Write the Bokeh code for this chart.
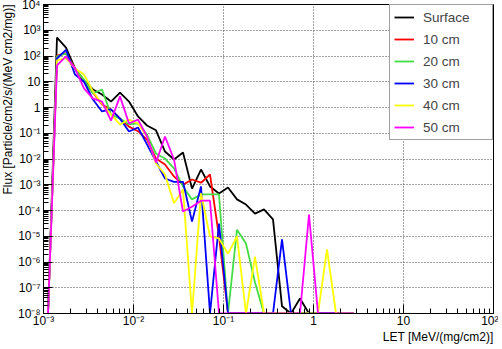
import numpy as np
from bokeh.plotting import figure
from bokeh.models import (Range1d, FixedTicker, CustomJSTickFormatter, Legend,
                          LegendItem, Title)
from bokeh.embed import file_html
from bokeh.resources import INLINE

# ---- histogram binning: 10 log bins per decade from 1e-3 to 1e2 ----
log_edges = np.linspace(-3, 2, 51)
let_centers = 10 ** ((log_edges[:-1] + log_edges[1:]) / 2)

series_names = ["Surface", "10 cm", "20 cm", "30 cm", "40 cm", "50 cm"]
series_colors = ["#000000", "#ff0000", "#44dd44", "#0000ff", "#ffff00", "#ff00ff"]

flux_surface = [0, 520, 210, 33, 11, 5.0, 3.2, 1.7, 3.8, 1.7,
                0.45, 0.2, 0.13, 0.0195, 0.0096, 0.018, 7.1e-4, 3.9e-3, 8.6e-4, 4.6e-4,
                7.8e-4, 2.7e-4, 1.7e-4, 7.6e-5, 1.1e-4, 4.5e-5, 1.9e-8, 0, 3.8e-8, 0,
                0, 0, 0, 0, 0]
flux_10cm = [0, 104, 128, 33, 10, 3.8, 1.3, 0.84, 0.37, 0.18,
             0.12, 0.057, 0.0104, 0.0061, 0.0021, 1.0e-3, 1.6e-3, 1.2e-3, 2.5e-3, 9.8e-6,
             0, 0, 0, 0, 0, 0, 0, 0, 0, 0,
             0, 0, 0, 0, 0]
flux_20cm = [0, 96, 125, 30, 12, 3.5, 5.0, 0.53, 0.37, 0.22,
             0.24, 0.089, 0.016, 0.0104, 0.0043, 8.6e-4, 2.7e-4, 4.2e-4, 4.2e-4, 4.2e-4,
             0, 1.8e-5, 5.2e-6, 1.6e-7, 0, 0, 0, 0, 0, 0,
             0, 0, 0, 0, 0]
flux_30cm = [0, 80, 174, 19, 10, 2.05, 0.70, 0.84, 0.37, 0.117,
             0.167, 0.037, 0.008, 0.00175, 1.3e-3, 1.3e-3, 3.7e-5, 8.6e-4, 0, 3.1e-5,
             0, 0, 0, 0, 0, 0, 7.5e-6, 0, 0, 0,
             0, 0, 0, 0, 0]
flux_40cm = [0, 67, 82, 33, 19, 4.2, 1.4, 0.53, 0.22, 0.34,
             0.24, 0.075, 0.0067, 0.0025, 1.9e-4, 6.5e-4, 0, 4.6e-4, 9.8e-6, 8.2e-6,
             2.1e-6, 9.8e-6, 0, 1.6e-6, 0, 0, 0, 0, 0, 0,
             0, 3.1e-6, 0, 0, 0]
flux_50cm = [0, 43, 96, 33, 5.5, 2.2, 1.7, 0.31, 2.7, 0.24,
             0.34, 0.075, 0.0073, 0.075, 0.0096, 9.1e-5, 1.4e-4, 2.4e-4, 2.4e-4, 0,
             0, 0, 0, 0, 0, 0, 0, 0, 0, 7.0e-5,
             0, 0, 0, 0, 0]

all_series = [flux_surface, flux_10cm, flux_20cm, flux_30cm, flux_40cm, flux_50cm]

x_title = "LET [MeV/(mg/cm2)]"
y_title = "Flux [Particle/cm2/s/(MeV cm2/mg)]"

X_MIN, X_MAX = 1e-3, 1e2
Y_MIN, Y_MAX = 1e-8, 1e4

FONT = "Liberation Sans"

# a small negative margin cancels the page's 8px body margin so the
# 502x349 canvas lines up with the window
p = figure(width=502, height=349, x_axis_type="log", y_axis_type="log",
           x_range=Range1d(X_MIN, X_MAX), y_range=Range1d(Y_MIN, Y_MAX),
           output_backend="svg", toolbar_location=None,
           min_border_left=47, min_border_right=5, min_border_top=8,
           min_border_bottom=32, styles={"margin": "-4px"})
p.background_fill_color = "white"
p.border_fill_color = "white"
p.outline_line_color = "black"
p.outline_line_width = 1

# ticks
x_major = [10.0 ** e for e in range(-3, 3)]
x_minor = [m * 10.0 ** e for e in range(-3, 2) for m in range(2, 10)]
y_major = [10.0 ** e for e in range(-8, 5)]
y_minor = [m * 10.0 ** e for e in range(-8, 4) for m in range(2, 10)]
xt = FixedTicker(ticks=x_major, minor_ticks=x_minor)
yt = FixedTicker(ticks=y_major, minor_ticks=y_minor)
p.xaxis.ticker = xt
p.yaxis.ticker = yt
p.xgrid.ticker = xt
p.ygrid.ticker = yt

fmt_code = """
const e = Math.round(Math.log10(tick));
const sup = {"-": "\u207b", "0": "\u2070", "1": "\u00b9", "2": "\u00b2", "3": "\u00b3",
             "4": "\u2074", "5": "\u2075", "6": "\u2076", "7": "\u2077", "8": "\u2078", "9": "\u2079"};
if (e == 0) return "1";
if (e == 1) return "10";
return "10" + String(e).split("").map(c => sup[c]).join("");
"""
p.xaxis.formatter = CustomJSTickFormatter(code=fmt_code)
p.yaxis.formatter = CustomJSTickFormatter(code=fmt_code)

for ax in (p.xaxis[0], p.yaxis[0]):
    ax.axis_line_color = "black"
    ax.major_tick_line_color = "black"
    ax.minor_tick_line_color = "black"
    ax.major_tick_in = 9
    ax.major_tick_out = 0
    ax.minor_tick_in = 5
    ax.minor_tick_out = 0
    ax.major_label_text_font = FONT
    ax.major_label_text_font_size = "12px"
    ax.major_label_text_color = "black"
    ax.major_label_standoff = 3
p.xaxis.major_label_standoff = 0

p.grid.grid_line_color = "#444444"
p.grid.grid_line_dash = "1 2"
p.grid.grid_line_width = 1

# axis titles, right/top aligned as in the reference
p.add_layout(Title(text=x_title, align="right", text_font=FONT,
                   text_font_size="12px", text_font_style="normal",
                   text_color="black", standoff=-6), "below")
p.add_layout(Title(text=y_title, align="right", text_font=FONT,
                   text_font_size="12px", text_font_style="normal",
                   text_color="black", standoff=0), "left")

items = []
for name, color, vals in zip(series_names, series_colors, all_series):
    v = np.asarray(vals, dtype=float)
    y = np.where(v > 0, v, Y_MIN)  # empty bins drawn on the frame floor
    r = p.line(let_centers[:len(v)], y, line_color=color, line_width=1.8)
    items.append(LegendItem(label=name, renderers=[r]))

legend = Legend(items=items, location="top_right", margin=0, padding=4,
                spacing=6, glyph_width=20, glyph_height=16, label_height=16,
                label_width=65, label_standoff=9,
                label_text_font=FONT, label_text_font_size="13.5px",
                border_line_color="#444444", border_line_width=1,
                background_fill_color="white", background_fill_alpha=1)
p.add_layout(legend)

open("out.html", "w").write(file_html(p, INLINE))
